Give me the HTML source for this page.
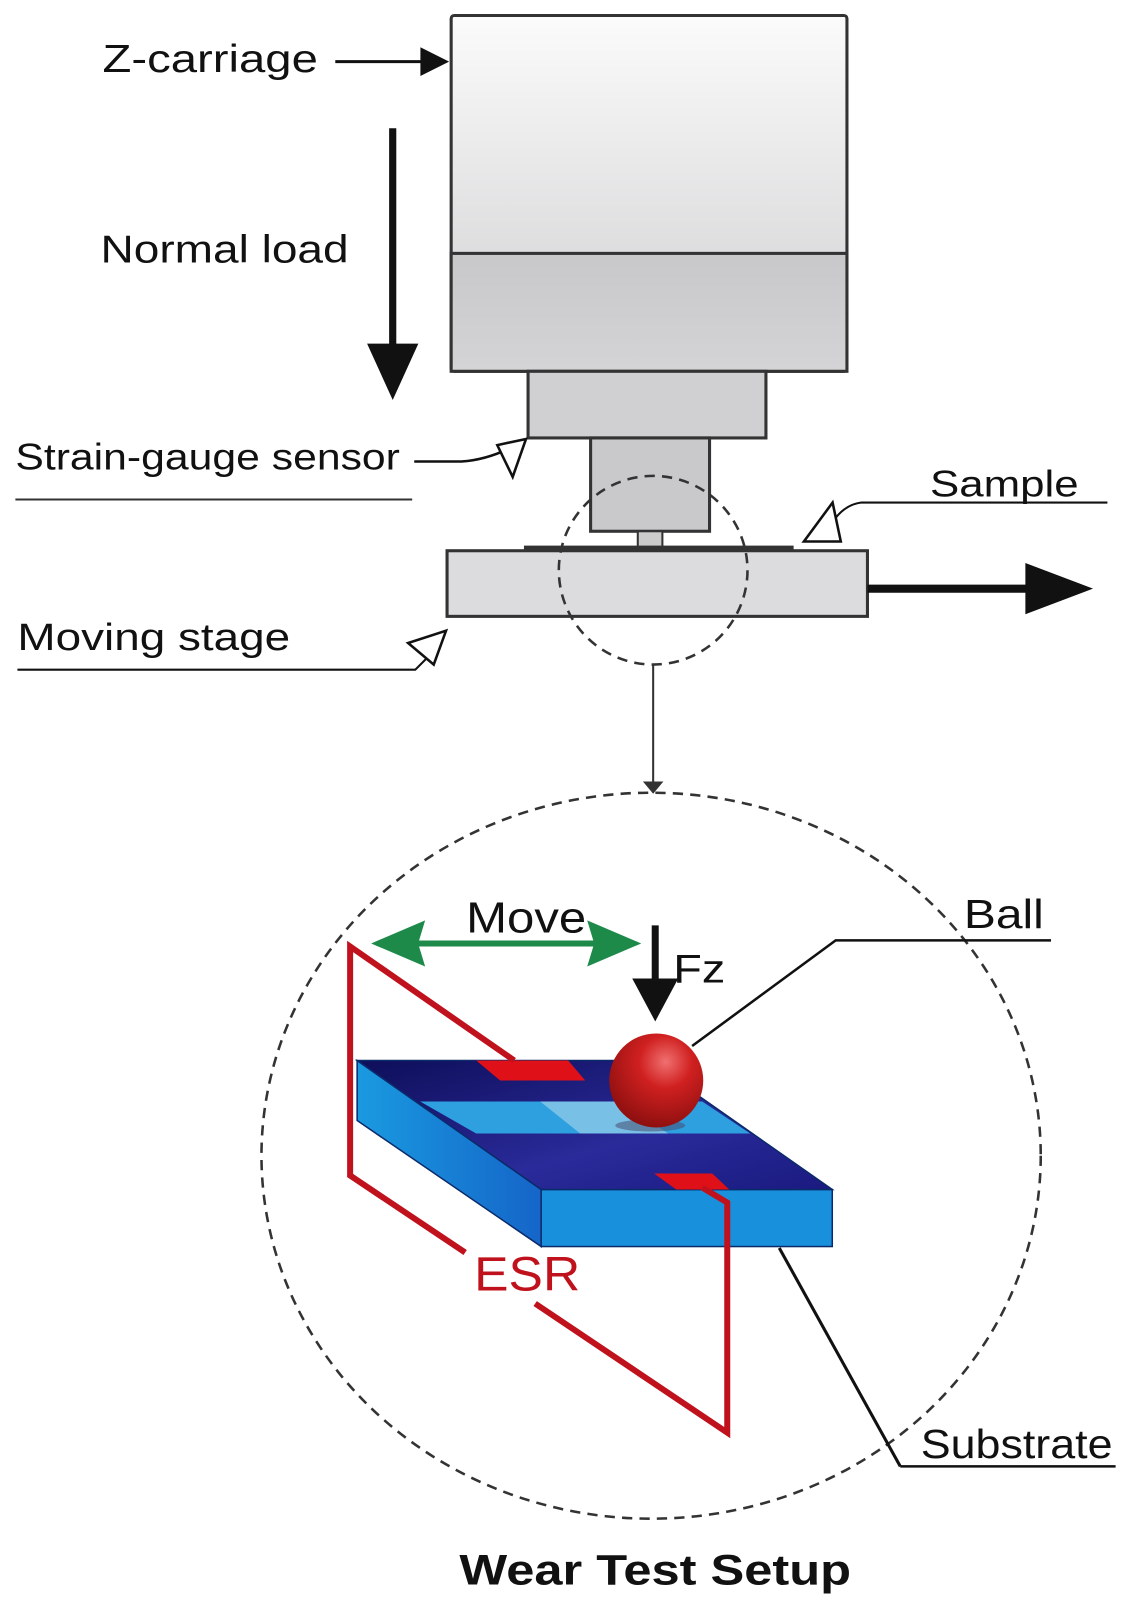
<!DOCTYPE html>
<html><head><meta charset="utf-8"><style>
html,body{margin:0;padding:0;background:#fff;}
svg{display:block;}
text{font-family:"Liberation Sans",sans-serif;fill:#111;}
</style></head><body>
<svg width="1132" height="1608" viewBox="0 0 1104 1568" xmlns="http://www.w3.org/2000/svg">
<defs>
<linearGradient id="g1" x1="0" y1="0" x2="0" y2="1"><stop offset="0" stop-color="#fbfbfb"/><stop offset="1" stop-color="#cfcfd1"/></linearGradient>
<linearGradient id="g2" x1="0" y1="0" x2="0" y2="1"><stop offset="0" stop-color="#c8c8ca"/><stop offset="1" stop-color="#d4d4d6"/></linearGradient>
<linearGradient id="top" x1="0" y1="0" x2="1" y2="1"><stop offset="0" stop-color="#0e0e5a"/><stop offset="0.6" stop-color="#2a2a9a"/><stop offset="1" stop-color="#1a1a80"/></linearGradient>
<linearGradient id="side" x1="0" y1="0" x2="1" y2="0"><stop offset="0" stop-color="#1a9ae0"/><stop offset="1" stop-color="#1565c8"/></linearGradient>
<radialGradient id="ball" cx="0.6" cy="0.3" r="0.7"><stop offset="0" stop-color="#f07070"/><stop offset="0.4" stop-color="#d02020"/><stop offset="1" stop-color="#901010"/></radialGradient>
</defs>
<rect x="440" y="15" width="386" height="347" rx="3" fill="url(#g1)" stroke="#333" stroke-width="3"/>
<rect x="440" y="247" width="386" height="115" fill="url(#g2)" stroke="#333" stroke-width="3"/>
<rect x="515" y="362" width="232" height="65" fill="#d0d0d2" stroke="#333" stroke-width="3"/>
<rect x="576" y="427" width="116" height="91" fill="#c9c9cb" stroke="#333" stroke-width="3"/>
<rect x="622" y="518" width="24" height="16" fill="#ccc" stroke="#333" stroke-width="2"/>
<rect x="511" y="532" width="263" height="6" fill="#333"/>
<rect x="436" y="537" width="410" height="64" fill="#dcdcde" stroke="#333" stroke-width="3"/>
<line x1="846" y1="574" x2="1010" y2="574" stroke="#111" stroke-width="8"/>
<polygon points="1000,549 1066,574 1000,599" fill="#111"/>
<line x1="383" y1="125" x2="383" y2="345" stroke="#111" stroke-width="7"/>
<polygon points="358,335 408,335 383,390" fill="#111"/>
<line x1="327" y1="60" x2="415" y2="60" stroke="#111" stroke-width="3"/>
<polygon points="410,46 438,60 410,74" fill="#111"/>
<text x="100" y="70" font-size="38" textLength="210" lengthAdjust="spacingAndGlyphs">Z-carriage</text>
<text x="98" y="256" font-size="38" textLength="242" lengthAdjust="spacingAndGlyphs">Normal load</text>
<text x="15" y="458" font-size="36" textLength="375" lengthAdjust="spacingAndGlyphs">Strain-gauge sensor</text>
<line x1="15" y1="487" x2="402" y2="487" stroke="#333" stroke-width="2"/>
<path d="M404,450 L450,450 Q480,448 510,430" fill="none" stroke="#111" stroke-width="2.5"/>
<polygon points="513,428 485,434 500,465" fill="#fff" stroke="#111" stroke-width="2.5"/>
<text x="907" y="484" font-size="36" textLength="145" lengthAdjust="spacingAndGlyphs">Sample</text>
<path d="M1080,490 L840,490 Q825,492 815,505 L795,520" fill="none" stroke="#111" stroke-width="2"/>
<polygon points="784,528 812,490 820,528" fill="#fff" stroke="#111" stroke-width="2.5"/>
<text x="17" y="634" font-size="37" textLength="266" lengthAdjust="spacingAndGlyphs">Moving stage</text>
<path d="M17,653 L405,653 L418,640" fill="none" stroke="#111" stroke-width="2"/>
<polygon points="435,615 398,627 423,648" fill="#fff" stroke="#111" stroke-width="2.5"/>
<circle cx="637" cy="556" r="92" fill="none" stroke="#333" stroke-width="2.5" stroke-dasharray="10,7"/>
<line x1="637" y1="648" x2="637" y2="766" stroke="#333" stroke-width="2"/>
<polygon points="627,762 647,762 637,774" fill="#333"/>
<ellipse cx="635" cy="1127" rx="380" ry="354" fill="none" stroke="#333" stroke-width="2.5" stroke-dasharray="10,7"/>
<g transform="scale(0.9756)">
<polygon points="357,1060 357,1120 541,1246 541,1189" fill="url(#side)" stroke="#0a2a6a" stroke-width="1.5"/>
<rect x="541" y="1189" width="291" height="57" fill="#1890dc" stroke="#0a2a6a" stroke-width="1.5"/>
<polygon points="357,1060 648,1060 832,1189 541,1189" fill="url(#top)" stroke="#0a2a6a" stroke-width="1.5"/>
<polygon points="420,1101 702,1101 750,1133 476,1133" fill="#2ea0e0"/>
<polygon points="540,1101 620,1101 668,1133 580,1133" fill="#8cc8e8" opacity="0.8"/>
<polygon points="476,1060 568,1060 585,1080 500,1080" fill="#e01018"/>
<polygon points="654,1173 712,1173 729,1189 676,1189" fill="#e01018"/>
<polyline points="514,1060 350,946 350,1175 465,1252" fill="none" stroke="#c0121c" stroke-width="6"/>
<polyline points="535,1303 727,1432 727,1202 702,1187" fill="none" stroke="#c0121c" stroke-width="6"/>
<text x="474" y="1290" font-size="48" style="fill:#c0121c" textLength="106" lengthAdjust="spacingAndGlyphs">ESR</text>
<ellipse cx="650" cy="1125" rx="35" ry="6" fill="#446" opacity="0.5"/>
<circle cx="656" cy="1080" r="47" fill="url(#ball)"/>
<line x1="400" y1="943" x2="615" y2="943" stroke="#1d8a4a" stroke-width="6"/>
<polygon points="371,943 425,920 418,943 425,966" fill="#1d8a4a"/>
<polygon points="641,943 587,920 594,943 587,966" fill="#1d8a4a"/>
<text x="466" y="932" font-size="44" textLength="120" lengthAdjust="spacingAndGlyphs">Move</text>
<line x1="655" y1="925" x2="655" y2="985" stroke="#111" stroke-width="7"/>
<polygon points="632,978 678,978 655,1021" fill="#111"/>
<text x="673" y="982" font-size="40" textLength="52" lengthAdjust="spacingAndGlyphs">Fz</text>
</g>
<text x="940" y="905" font-size="40" textLength="78" lengthAdjust="spacingAndGlyphs">Ball</text>
<polyline points="1025,917 815,917 675,1020" fill="none" stroke="#111" stroke-width="2.5"/>
<text x="898" y="1422" font-size="40" textLength="187" lengthAdjust="spacingAndGlyphs">Substrate</text>
<line x1="878" y1="1430" x2="1088" y2="1430" stroke="#111" stroke-width="2.5"/>
<line x1="760" y1="1217" x2="878" y2="1430" stroke="#111" stroke-width="3"/>
<text x="448" y="1545" font-size="42" font-weight="bold" textLength="382" lengthAdjust="spacingAndGlyphs">Wear Test Setup</text>
</svg>
</body></html>
